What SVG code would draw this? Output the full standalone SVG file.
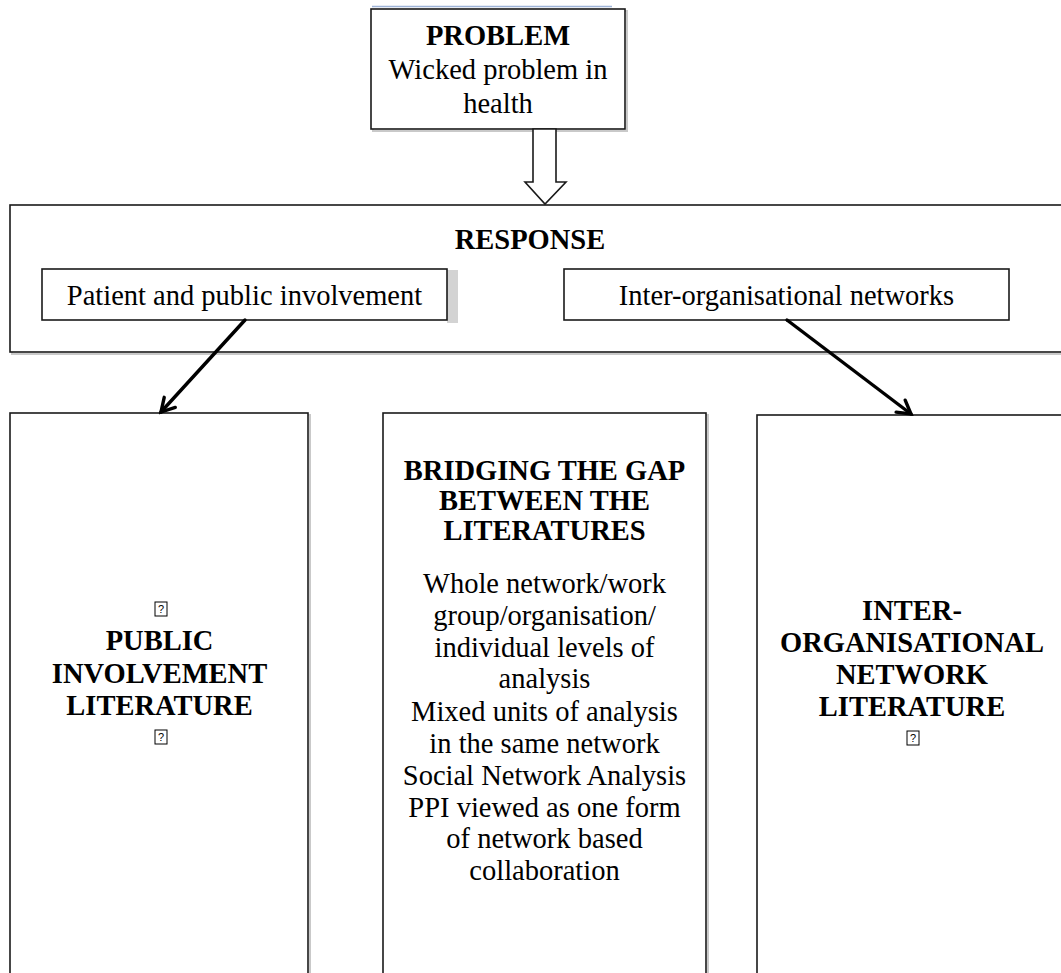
<svg xmlns="http://www.w3.org/2000/svg" width="1061" height="973" viewBox="0 0 1061 973">
  <style>
    .box { fill: #ffffff; stroke: #1a1a1a; stroke-width: 1.6; }
    .shadow { fill: none; stroke: #c9c9c9; stroke-width: 2; }
    .t { font-family: "Liberation Serif", "Times New Roman", serif; font-size: 28.5px; fill: #000; text-anchor: middle; }
    .b { font-weight: bold; }
    .tofu-box { fill: #ffffff; stroke: #000; stroke-width: 1; }
    .tofu-q { font-family: "Liberation Sans", Arial, sans-serif; font-size: 11px; fill: #000; text-anchor: middle; }
    .conn { stroke: #000; stroke-width: 3.4; fill: none; stroke-linecap: round; }
  </style>
  <defs>
    <marker id="chev" markerUnits="userSpaceOnUse" viewBox="0 0 20 20" markerWidth="20" markerHeight="20" refX="17" refY="10" orient="auto">
      <path d="M4,2.5 L17,10 L4,17.5" fill="none" stroke="#000" stroke-width="3.4" stroke-linecap="round" stroke-linejoin="miter"/>
    </marker>
  </defs>

  <rect width="1061" height="973" fill="#ffffff"/>

  <!-- PROBLEM -->
  <g id="problem">
    <line x1="372" y1="6.5" x2="612" y2="6.5" stroke="#9fb4d8" stroke-width="1.6"/>
    <rect class="shadow" x="373" y="11" width="254" height="120"/>
    <rect class="box" x="371" y="9" width="254" height="120"/>
    <text class="t b" x="498" y="44.5">PROBLEM</text>
    <text class="t" x="498" y="78.5">Wicked problem in</text>
    <text class="t" x="498" y="112.5">health</text>
  </g>

  <!-- RESPONSE -->
  <g id="response">
    <rect class="shadow" x="12" y="207" width="1060" height="147"/>
    <rect class="box" x="10" y="205" width="1060" height="147"/>
    <text class="t b" x="530" y="249">RESPONSE</text>
  </g>

  <g id="ppi">
    <rect x="447" y="270" width="11" height="53" fill="#d3d3d3"/>
    <rect class="box" x="42" y="269" width="405" height="51"/>
    <text class="t" x="244.5" y="305">Patient and public involvement</text>
  </g>

  <g id="ion">
    <rect class="box" x="564" y="269" width="445" height="51"/>
    <text class="t" x="786.5" y="305">Inter-organisational networks</text>
  </g>

  <!-- Literature columns -->
  <g id="public-involvement">
    <rect class="shadow" x="12" y="415" width="298" height="580"/>
    <rect class="box" x="10" y="413" width="298" height="580"/>
    <rect class="tofu-box" x="155" y="602" width="12" height="14"/>
    <text class="tofu-q" x="161" y="613">?</text>
    <text class="t b" x="159.5" y="650">PUBLIC</text>
    <text class="t b" x="159.5" y="683">INVOLVEMENT</text>
    <text class="t b" x="159.5" y="715">LITERATURE</text>
    <rect class="tofu-box" x="155" y="730" width="12" height="14"/>
    <text class="tofu-q" x="161" y="741">?</text>
  </g>

  <g id="bridging">
    <rect class="shadow" x="385" y="415" width="323" height="580"/>
    <rect class="box" x="383" y="413" width="323" height="580"/>
    <text class="t b" x="544.5" y="480">BRIDGING THE GAP</text>
    <text class="t b" x="544.5" y="510">BETWEEN THE</text>
    <text class="t b" x="544.5" y="540">LITERATURES</text>
    <text class="t" x="544.5" y="593">Whole network/work</text>
    <text class="t" x="544.5" y="625">group/organisation/</text>
    <text class="t" x="544.5" y="657">individual levels of</text>
    <text class="t" x="544.5" y="688">analysis</text>
    <text class="t" x="544.5" y="721">Mixed units of analysis</text>
    <text class="t" x="544.5" y="753">in the same network</text>
    <text class="t" x="544.5" y="785">Social Network Analysis</text>
    <text class="t" x="544.5" y="817">PPI viewed as one form</text>
    <text class="t" x="544.5" y="848">of network based</text>
    <text class="t" x="544.5" y="880">collaboration</text>
  </g>

  <g id="network-literature">
    <rect class="shadow" x="759" y="417" width="320" height="580"/>
    <rect class="box" x="757" y="415" width="320" height="580"/>
    <text class="t b" x="912" y="620">INTER-</text>
    <text class="t b" x="912" y="652">ORGANISATIONAL</text>
    <text class="t b" x="912" y="684">NETWORK</text>
    <text class="t b" x="912" y="716">LITERATURE</text>
    <rect class="tofu-box" x="907" y="731" width="12" height="14"/>
    <text class="tofu-q" x="913" y="742">?</text>
  </g>

  <!-- Connectors -->
  <g id="connectors">
    <polygon points="533,129 556,129 556,182 566,182 545,204 525,182 533,182" fill="#ffffff" stroke="#1a1a1a" stroke-width="1.6" stroke-linejoin="miter"/>
    <line class="conn" x1="245" y1="320" x2="161" y2="412" marker-end="url(#chev)"/>
    <line class="conn" x1="787" y1="320" x2="911" y2="414" marker-end="url(#chev)"/>
  </g>
</svg>
